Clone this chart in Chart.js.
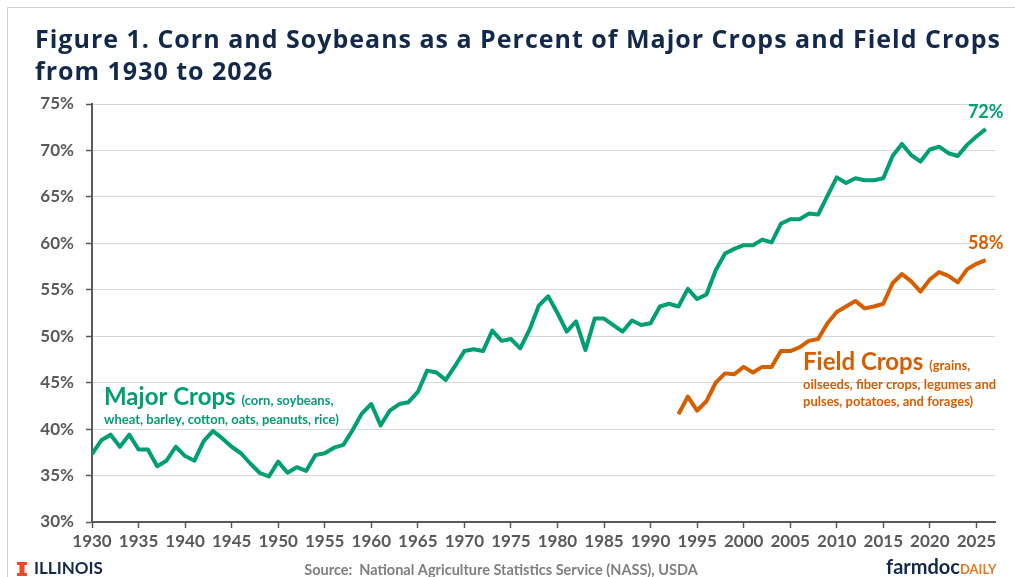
<!DOCTYPE html>
<html>
<head>
<meta charset="utf-8">
<script src="https://cdn.jsdelivr.net/npm/chart.js@4.4.1/dist/chart.umd.min.js"></script>
<style>
  html, body { margin: 0; padding: 0; background: #fff; }
</style>
</head>
<body>
<canvas id="cropChart" width="1015" height="577"></canvas>
<script>
// years on the x axis
const years = [
  1930, 1931, 1932, 1933, 1934, 1935, 1936, 1937, 1938, 1939,
  1940, 1941, 1942, 1943, 1944, 1945, 1946, 1947, 1948, 1949,
  1950, 1951, 1952, 1953, 1954, 1955, 1956, 1957, 1958, 1959,
  1960, 1961, 1962, 1963, 1964, 1965, 1966, 1967, 1968, 1969,
  1970, 1971, 1972, 1973, 1974, 1975, 1976, 1977, 1978, 1979,
  1980, 1981, 1982, 1983, 1984, 1985, 1986, 1987, 1988, 1989,
  1990, 1991, 1992, 1993, 1994, 1995, 1996, 1997, 1998, 1999,
  2000, 2001, 2002, 2003, 2004, 2005, 2006, 2007, 2008, 2009,
  2010, 2011, 2012, 2013, 2014, 2015, 2016, 2017, 2018, 2019,
  2020, 2021, 2022, 2023, 2024, 2025, 2026
];

// corn + soybeans as % of major crops, 1930-2026
const majorCrops = [
  37.3, 38.8, 39.4, 38.1, 39.4, 37.8, 37.8, 36.0, 36.6, 38.1,
  37.1, 36.6, 38.7, 39.8, 39.0, 38.1, 37.4, 36.3, 35.3, 34.9,
  36.5, 35.3, 35.9, 35.5, 37.2, 37.4, 38.0, 38.3, 39.9, 41.7,
  42.7, 40.4, 42.0, 42.7, 42.9, 44.0, 46.3, 46.1, 45.3, 46.8,
  48.4, 48.6, 48.4, 50.6, 49.5, 49.7, 48.7, 50.7, 53.3, 54.3,
  52.5, 50.5, 51.6, 48.5, 51.9, 51.9, 51.2, 50.5, 51.7, 51.2,
  51.4, 53.2, 53.5, 53.2, 55.1, 54.0, 54.5, 57.1, 58.9, 59.4,
  59.8, 59.8, 60.4, 60.1, 62.1, 62.6, 62.6, 63.2, 63.1, 65.1,
  67.1, 66.5, 67.0, 66.8, 66.8, 67.0, 69.4, 70.7, 69.5, 68.8,
  70.1, 70.4, 69.7, 69.4, 70.6, 71.5, 72.3
];

// corn + soybeans as % of field crops, 1993-2026
const fieldYears = years.slice(years.indexOf(1993));
const fieldCrops = [
  41.6, 43.5, 42.0, 43.0, 45.0, 46.0, 45.9,
  46.7, 46.1, 46.7, 46.7, 48.4, 48.4, 48.8, 49.5, 49.7, 51.4,
  52.6, 53.2, 53.8, 53.0, 53.2, 53.5, 55.7, 56.7, 55.9, 54.8,
  56.1, 56.9, 56.5, 55.8, 57.2, 57.8, 58.2
];

const xTicks = [1930, 1935, 1940, 1945, 1950, 1955, 1960, 1965, 1970, 1975,
                1980, 1985, 1990, 1995, 2000, 2005, 2010, 2015, 2020, 2025];
const yTicks = [30, 35, 40, 45, 50, 55, 60, 65, 70, 75];

const GREEN = '#009E73';
const ORANGE = '#D55E00';
const NAVY = '#13294B';
const AXIS = '#595959';
const BODY = 'Lato';

// all the text that sits around the plot
const textPlugin = {
  id: 'figureText',
  afterDraw(chart) {
    const ctx = chart.ctx;
    const xs = chart.scales.x, ys = chart.scales.y;
    ctx.save();

    // frame
    ctx.strokeStyle = '#cfcfcf';
    ctx.lineWidth = 1;
    ctx.beginPath();
    ctx.moveTo(7.5, 577); ctx.lineTo(7.5, 7.5); ctx.lineTo(1015, 7.5);
    ctx.stroke();

    // title
    ctx.fillStyle = NAVY;
    ctx.textAlign = 'left';
    ctx.textBaseline = 'alphabetic';
    ctx.font = 'bold 25px "Open Sans"';
    ctx.letterSpacing = '1px';
    ctx.fillText('Figure 1. Corn and Soybeans as a Percent of Major Crops and Field Crops', 35, 48);
    ctx.fillText('from 1930 to 2026', 35, 80);
    ctx.letterSpacing = '0px';

    // end-of-line values
    ctx.textAlign = 'center';
    ctx.textBaseline = 'middle';
    ctx.font = 'bold 18px ' + BODY;
    const lastYear = years[years.length - 1];
    const lastMajor = majorCrops[majorCrops.length - 1];
    const lastField = fieldCrops[fieldCrops.length - 1];
    ctx.fillStyle = GREEN;
    ctx.fillText(Math.round(lastMajor) + '%', xs.getPixelForValue(lastYear), ys.getPixelForValue(lastMajor) - 17);
    ctx.fillStyle = ORANGE;
    ctx.fillText(Math.round(lastField) + '%', xs.getPixelForValue(lastYear), ys.getPixelForValue(lastField) - 17);

    // series annotations
    ctx.textAlign = 'left';
    ctx.textBaseline = 'alphabetic';
    ctx.fillStyle = GREEN;
    ctx.font = 'bold 24px ' + BODY;
    ctx.fillText('Major Crops', 104, 405);
    let w = ctx.measureText('Major Crops ').width;
    ctx.font = 'bold 13px ' + BODY;
    ctx.fillText('(corn, soybeans,', 104 + w, 405);
    ctx.fillText('wheat, barley, cotton, oats, peanuts, rice)', 104, 424);

    ctx.fillStyle = ORANGE;
    ctx.font = 'bold 24px ' + BODY;
    ctx.fillText('Field Crops', 803, 370);
    w = ctx.measureText('Field Crops ').width;
    ctx.font = 'bold 13px ' + BODY;
    ctx.fillText('(grains,', 803 + w, 370);
    ctx.fillText('oilseeds, fiber crops, legumes and', 803, 389);
    ctx.fillText('pulses, potatoes, and forages)', 803, 406);

    // footer
    ctx.fillStyle = '#E84A27';
    ctx.fillRect(17, 562, 10, 3);
    ctx.fillRect(19.5, 562, 5, 14);
    ctx.fillRect(17, 573, 10, 3);
    ctx.fillStyle = NAVY;
    ctx.font = 'bold 17px ' + BODY;
    ctx.textBaseline = 'middle';
    ctx.fillText('ILLINOIS', 34, 569);

    ctx.fillStyle = '#7F7F7F';
    ctx.textAlign = 'center';
    ctx.font = 'bold 14.5px ' + BODY;
    ctx.fillText('Source:  National Agriculture Statistics Service (NASS), USDA', 501, 570);

    ctx.textAlign = 'left';
    ctx.font = 'bold 20px ' + BODY;
    ctx.fillStyle = NAVY;
    ctx.fillText('farmdoc', 886, 568);
    w = ctx.measureText('farmdoc').width;
    ctx.font = 'bold 13px ' + BODY;
    ctx.fillStyle = '#E87722';
    ctx.fillText('DAILY', 886 + w, 570);

    ctx.restore();
  }
};

const tickFont = { family: BODY, size: 17, weight: 'bold' };

new Chart(document.getElementById('cropChart'), {
  type: 'line',
  data: {
    datasets: [
      {
        label: 'Major Crops',
        data: years.map((y, i) => ({ x: y, y: majorCrops[i] })),
        borderColor: GREEN,
        borderWidth: 4,
        pointRadius: 0,
        borderJoinStyle: 'round',
        tension: 0
      },
      {
        label: 'Field Crops',
        data: fieldYears.map((y, i) => ({ x: y, y: fieldCrops[i] })),
        borderColor: ORANGE,
        borderWidth: 4,
        pointRadius: 0,
        borderJoinStyle: 'round',
        tension: 0
      }
    ]
  },
  options: {
    responsive: false,
    animation: false,
    layout: { padding: { top: 104, right: 20, left: 0, bottom: 0 } },
    plugins: {
      legend: { display: false },
      tooltip: { enabled: false },
      title: { display: false }
    },
    scales: {
      x: {
        type: 'linear',
        min: 1930,
        max: 2027,
        afterBuildTicks: s => { s.ticks = xTicks.map(v => ({ value: v })); },
        afterFit: s => { s.height = 55; },
        grid: { drawOnChartArea: false, drawTicks: true, tickLength: 6, tickColor: AXIS, tickWidth: 1.5 },
        border: { display: true, color: AXIS, width: 2 },
        ticks: { font: tickFont, color: AXIS, padding: 3, maxRotation: 0, autoSkip: false, callback: v => String(v) }
      },
      y: {
        min: 30,
        max: 75,
        afterBuildTicks: s => { s.ticks = yTicks.map(v => ({ value: v })); },
        afterFit: s => { s.width = 92; },
        grid: { color: '#D9D9D9', lineWidth: 1, drawTicks: true, tickLength: 6, tickColor: AXIS, tickWidth: 1.5 },
        border: { display: true, color: AXIS, width: 2 },
        ticks: { font: tickFont, color: AXIS, padding: 12, callback: v => v + '%' }
      }
    }
  },
  plugins: [textPlugin]
});
</script>
</body>
</html>
